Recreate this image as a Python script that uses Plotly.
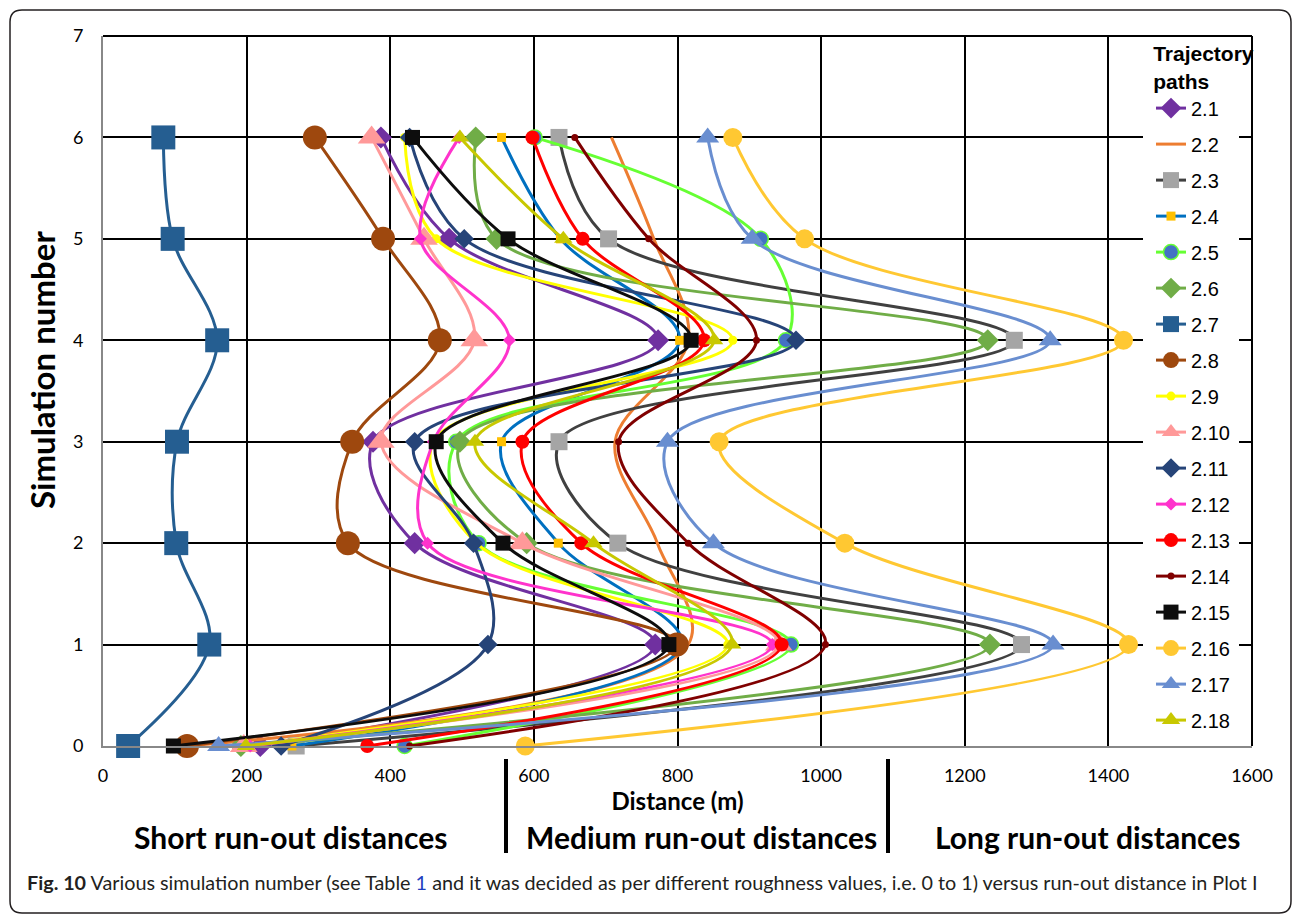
import plotly.graph_objects as go

# ---------------- data ----------------
sim_number = [0, 1, 2, 3, 4, 5, 6]
x_ticks = [0, 200, 400, 600, 800, 1000, 1200, 1400, 1600]
y_ticks = [0, 1, 2, 3, 4, 5, 6, 7]

names = ["2.1", "2.2", "2.3", "2.4", "2.5", "2.6", "2.7", "2.8", "2.9",
         "2.10", "2.11", "2.12", "2.13", "2.14", "2.15", "2.16", "2.17", "2.18"]

d_2_1 = [219, 769, 434, 376, 773, 482, 387]
d_2_2 = [117, 815, 772, 713, 815, 767, 708]
d_2_3 = [269, 1279, 717, 635, 1269, 704, 635]
d_2_4 = [263, 806, 634, 555, 803, 637, 555]
d_2_5 = [420, 958, 523, 492, 951, 916, 601]
d_2_6 = [192, 1235, 590, 497, 1232, 548, 519]
d_2_7 = [35, 148, 102, 103, 159, 97, 84]
d_2_8 = [117, 799, 341, 347, 469, 390, 295]
d_2_9 = [196, 870, 520, 460, 877, 464, 420]
d_2_10 = [196, 941, 584, 387, 517, 447, 374]
d_2_11 = [248, 536, 516, 434, 965, 503, 427]
d_2_12 = [205, 932, 452, 460, 566, 442, 496]
d_2_13 = [368, 945, 666, 584, 837, 668, 598]
d_2_14 = [427, 1006, 815, 718, 910, 760, 657]
d_2_15 = [98, 788, 557, 464, 819, 564, 431]
d_2_16 = [588, 1428, 1033, 858, 1421, 977, 877]
d_2_17 = [161, 1323, 850, 786, 1319, 904, 842]
d_2_18 = [199, 876, 683, 518, 851, 641, 497]

distances = [d_2_1, d_2_2, d_2_3, d_2_4, d_2_5, d_2_6, d_2_7, d_2_8, d_2_9,
             d_2_10, d_2_11, d_2_12, d_2_13, d_2_14, d_2_15, d_2_16, d_2_17, d_2_18]

# ---------------- styles ----------------
# (line colour, marker symbol, marker size, marker fill, marker outline colour)
styles = [
    ("#7030A0", "diamond", 17, "#7030A0", "#7030A0"),
    ("#ED7D31", None, 0, None, None),
    ("#404040", "square", 17, "#A5A5A5", "#A5A5A5"),
    ("#0070C0", "square", 9, "#FFC000", "#FFC000"),
    ("#66FF33", "circle", 15, "#4472C4", "#66FF33"),
    ("#70AD47", "diamond", 17, "#70AD47", "#70AD47"),
    ("#255E91", "square", 24, "#255E91", "#255E91"),
    ("#9E480E", "circle", 24, "#9E480E", "#9E480E"),
    ("#FFFF00", "circle", 9, "#FFFF00", "#FFFF00"),
    ("#FF9999", "triangle-up", 24, "#FF9999", "#FF9999"),
    ("#264478", "diamond", 15, "#264478", "#264478"),
    ("#FF33CC", "diamond", 10, "#FF33CC", "#FF33CC"),
    ("#FF0000", "circle", 14, "#FF0000", "#FF0000"),
    ("#800000", "circle", 7, "#800000", "#800000"),
    ("#0D0D0D", "square", 15, "#0D0D0D", "#0D0D0D"),
    ("#FFC832", "circle", 19, "#FFC832", "#FFC832"),
    ("#698ED0", "triangle-up", 20, "#698ED0", "#698ED0"),
    ("#C8C800", "triangle-up", 16, "#C8C800", "#C8C800"),
]

W, H = 1296, 915
L, R, T, B = 103, 44, 36, 169
PW, PH = W - L - R, H - T - B


def px(x):
    return (x - L) / PW


def py(y):
    return (H - B - y) / PH


fig = go.Figure()
for name, xs, st in zip(names, distances, styles):
    lc, sym, ms, mf, mo = st
    kw = dict(
        x=xs, y=sim_number, name=name, legendgroup=name,
        line=dict(color=lc, width=3, shape="spline", smoothing=1.0),
        cliponaxis=False,
    )
    if sym is None:
        kw["mode"] = "lines"
    else:
        kw["mode"] = "lines+markers"
        kw["marker"] = dict(symbol=sym, size=ms, color=mf,
                            line=dict(color=mo, width=1.5 if mo != mf else 0))
    fig.add_trace(go.Scatter(**kw))

tick_font = dict(family="Lato, Open Sans, sans-serif", size=18, color="#000000")

fig.update_xaxes(
    range=[0, 1600], tickvals=x_ticks, ticktext=[str(v) for v in x_ticks],
    showgrid=True, gridcolor="#000000", gridwidth=2,
    zeroline=False, showline=True, linecolor="#888888", linewidth=2,
    ticks="outside", ticklen=12, tickcolor="rgba(0,0,0,0)",
    tickfont=tick_font,
    title=dict(text="<b>Distance (m)</b>", standoff=2,
               font=dict(family="Lato, Open Sans, sans-serif", size=24, color="#000000")),
)
fig.update_yaxes(
    range=[0, 7], tickvals=y_ticks, ticktext=[str(v) for v in y_ticks],
    showgrid=True, gridcolor="#000000", gridwidth=2,
    zeroline=False, showline=True, linecolor="#888888", linewidth=2,
    ticks="outside", ticklen=14, tickcolor="rgba(0,0,0,0)",
    tickfont=tick_font,
)

shapes = []
# outer rounded frame
x0, x1, y0, y1, r = 10, 1291, 10, 913, 12
pts = (f"M {px(x0 + r)},{py(y0)} L {px(x1 - r)},{py(y0)} Q {px(x1)},{py(y0)} {px(x1)},{py(y0 + r)} "
       f"L {px(x1)},{py(y1 - r)} Q {px(x1)},{py(y1)} {px(x1 - r)},{py(y1)} "
       f"L {px(x0 + r)},{py(y1)} Q {px(x0)},{py(y1)} {px(x0)},{py(y1 - r)} "
       f"L {px(x0)},{py(y0 + r)} Q {px(x0)},{py(y0)} {px(x0 + r)},{py(y0)} Z")
shapes.append(dict(type="path", xref="paper", yref="paper", path=pts,
                   line=dict(color="#231F20", width=1.5), layer="below"))
# white box behind the legend (covers the grid)
shapes.append(dict(type="rect", xref="paper", yref="paper",
                   x0=px(1143), x1=px(1239), y0=py(744), y1=py(38),
                   fillcolor="#FFFFFF", line=dict(width=0), layer="above"))
# separator bars under x axis
for bx in (506, 888):
    shapes.append(dict(type="line", xref="paper", yref="paper",
                       x0=px(bx), x1=px(bx), y0=py(759), y1=py(853),
                       line=dict(color="#000000", width=4)))
# plot frame top/right
shapes.append(dict(type="line", xref="paper", yref="paper", x0=0, x1=1, y0=1, y1=1,
                   line=dict(color="#000000", width=2)))
shapes.append(dict(type="line", xref="paper", yref="paper", x0=1, x1=1, y0=0, y1=1,
                   line=dict(color="#000000", width=2)))

cat_font = dict(family="Lato, Open Sans, sans-serif", size=30, color="#000000")
annotations = [
    dict(text="<b>Simulation number</b>", x=px(42), y=py(370), xref="paper", yref="paper",
         showarrow=False, textangle=-90, xanchor="center", yanchor="middle",
         font=dict(family="Lato, Open Sans, sans-serif", size=33, color="#000000")),
    dict(text="<b>Short run-out distances</b>", x=px(290), y=py(837), xref="paper", yref="paper",
         showarrow=False, font=cat_font, xanchor="center", yanchor="middle"),
    dict(text="<b>Medium run-out distances</b>", x=px(701), y=py(837), xref="paper", yref="paper",
         showarrow=False, font=cat_font, xanchor="center", yanchor="middle"),
    dict(text="<b>Long run-out distances</b>", x=px(1087), y=py(837), xref="paper", yref="paper",
         showarrow=False, font=cat_font, xanchor="center", yanchor="middle"),
    dict(text=("<b>Fig. 10</b> Various simulation number (see Table "
               "<span style='color:#1F3FBF'>1</span> and it was decided as per different "
               "roughness values, i.e. 0 to 1) versus run-out distance in Plot I"),
         x=px(25), y=py(882), xref="paper", yref="paper", showarrow=False,
         xanchor="left", yanchor="middle",
         font=dict(family="Lato, Open Sans, sans-serif", size=19.8, color="#231F20")),
]

fig.update_layout(
    width=W, height=H,
    margin=dict(l=L, r=R, t=T, b=B),
    paper_bgcolor="#FFFFFF", plot_bgcolor="#FFFFFF",
    showlegend=True,
    legend=dict(
        x=px(1151), y=py(34), xanchor="left", yanchor="top",
        bgcolor="rgba(0,0,0,0)", borderwidth=0, maxheight=900,
        font=dict(family="Liberation Sans, Arial, sans-serif", size=20, color="#000000"),
        title=dict(text="<b>Trajectory<br>paths</b>", side="top center",
                   font=dict(family="Liberation Sans, Arial, sans-serif", size=21, color="#000000")),
        tracegroupgap=7, itemwidth=30,
    ),
    shapes=shapes,
    annotations=annotations,
)

fig.write_html("out.html")
